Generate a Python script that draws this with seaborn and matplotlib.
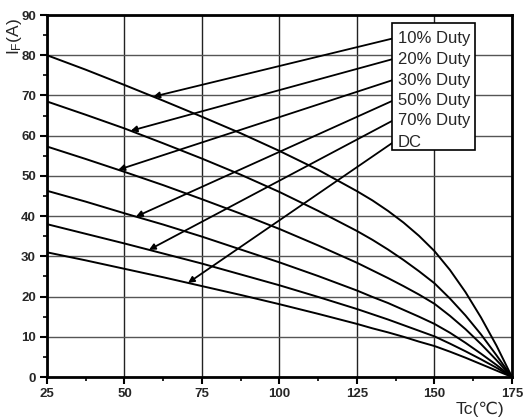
import numpy as np
import pandas as pd
import matplotlib
matplotlib.use("Agg")
import matplotlib.pyplot as plt
import seaborn as sns
from matplotlib.patches import Rectangle
from matplotlib.ticker import MultipleLocator

# ---- data ----
tc = [25, 37.5, 50, 62.5, 75, 87.5, 100, 112.5, 125, 130, 135, 140, 145, 150, 155, 160, 165, 170, 175]
duty10 = [80.0, 76.4, 72.6, 68.7, 64.7, 60.6, 56.2, 51.5, 46.2, 43.9, 41.3, 38.4, 35.1, 31.3, 26.6, 21.1, 14.8, 7.8, 0.0]
duty20 = [68.5, 65.2, 61.8, 58.1, 54.3, 50.3, 46.0, 41.3, 36.3, 34.1, 31.7, 29.1, 26.3, 23.3, 19.5, 15.3, 10.6, 5.4, 0.0]
duty30 = [57.3, 54.2, 51.0, 47.7, 44.2, 40.6, 36.8, 32.7, 28.4, 26.5, 24.6, 22.6, 20.5, 18.2, 15.2, 11.9, 8.2, 4.2, 0.0]
duty50 = [46.3, 43.6, 40.7, 37.9, 34.9, 31.7, 28.5, 25.1, 21.5, 19.9, 18.4, 16.7, 15.0, 13.2, 11.0, 8.5, 5.8, 3.0, 0.0]
duty70 = [38.0, 35.6, 33.2, 30.7, 28.2, 25.5, 22.8, 19.9, 16.9, 15.6, 14.3, 12.9, 11.5, 10.1, 8.3, 6.4, 4.4, 2.3, 0.0]
dc = [31.0, 29.0, 26.9, 24.8, 22.6, 20.4, 18.1, 15.7, 13.2, 12.1, 11.1, 10.0, 8.8, 7.7, 6.3, 4.8, 3.2, 1.6, 0.0]
labels = ["10% Duty", "20% Duty", "30% Duty", "50% Duty", "70% Duty", "DC"]
arrow_tip_tc = [59.3, 52.0, 48.0, 53.7, 57.9, 70.5]
x_ticks = [25, 50, 75, 100, 125, 150, 175]
y_ticks = [0, 10, 20, 30, 40, 50, 60, 70, 80, 90]

series = [duty10, duty20, duty30, duty50, duty70, dc]
df = pd.concat(
    [pd.DataFrame({"Tc": tc, "IF": vals, "curve": lab}) for lab, vals in zip(labels, series)],
    ignore_index=True,
)

sns.set_style("white")
plt.rcParams["font.family"] = ["Liberation Sans", "DejaVu Sans"]

fig = plt.figure(figsize=(5.32, 4.19), dpi=100)
ax = fig.add_axes([0.0883, 0.1002, 0.8741, 0.864])

sns.lineplot(data=df, x="Tc", y="IF", hue="curve", palette=["black"] * 6,
             estimator=None, legend=False, linewidth=1.4, ax=ax, zorder=3)

ax.set_xlim(25, 175)
ax.set_ylim(0, 90)
ax.set_xticks(x_ticks)
ax.set_yticks(y_ticks)
ax.xaxis.set_minor_locator(MultipleLocator(12.5))
ax.yaxis.set_minor_locator(MultipleLocator(5))
ax.tick_params(which="major", direction="out", length=5, width=1.5, color="black",
               labelsize=9.5, pad=3)
ax.tick_params(which="minor", direction="out", length=3, width=1.2, color="black")
ax.tick_params(axis="both", which="both", bottom=True, left=True)
for lab in ax.get_xticklabels() + ax.get_yticklabels():
    lab.set_fontweight("bold")

ax.xaxis.grid(True, which="major", color="#222222", linewidth=1.0)
ax.yaxis.grid(True, which="major", color="#555555", linewidth=1.0)
ax.set_axisbelow(True)
for sp in ax.spines.values():
    sp.set_visible(True)
    sp.set_color("black")
    sp.set_linewidth(2)

ax.set_xlabel("")
ax.set_ylabel("")
ax.text(0.93, -0.09, "Tc(\u2103)", transform=ax.transAxes, ha="center", va="center",
        fontsize=12.5)
ax.text(-0.07, 0.94, r"$\mathregular{I_F(A)}$", transform=ax.transAxes, ha="center",
        va="center", rotation=90, fontsize=12.5)

# legend box with arrows
box_left, box_bottom, box_w, box_h = 0.743, 0.627, 0.177, 0.352
ax.add_patch(Rectangle((box_left, box_bottom), box_w, box_h, transform=ax.transAxes,
                       facecolor="white", edgecolor="black", linewidth=1.2, zorder=5))
rows = [0.935, 0.878, 0.820, 0.763, 0.708, 0.647]
for lab, vals, tip, ry in zip(labels, series, arrow_tip_tc, rows):
    ax.text(box_left + 0.011, ry, lab, transform=ax.transAxes, ha="left", va="center",
            fontsize=12, zorder=6)
    ty = float(np.interp(tip, tc, vals))
    ax.annotate("", xy=(tip, ty), xycoords="data", xytext=(box_left, ry),
                textcoords="axes fraction",
                arrowprops=dict(arrowstyle="-|>", color="black", lw=1.3,
                                mutation_scale=9, shrinkA=0, shrinkB=0),
                zorder=4)

fig.savefig("out.png", dpi=100)
